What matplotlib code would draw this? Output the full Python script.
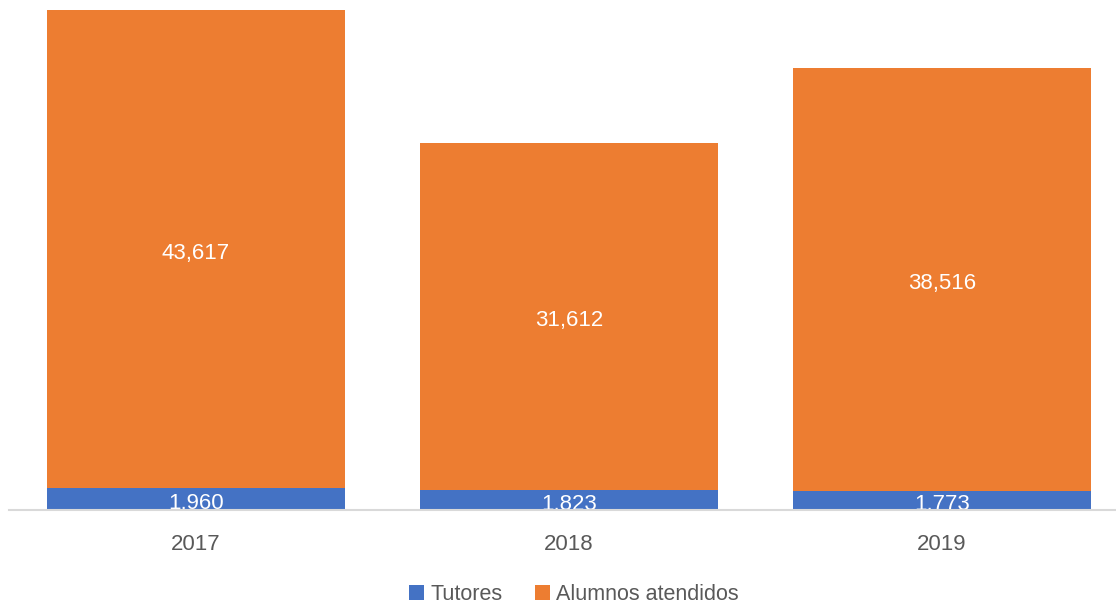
import matplotlib.pyplot as plt

# chart data
years = ['2017', '2018', '2019']
tutores = [1960, 1823, 1773]
alumnos = [43617, 31612, 38516]

blue = '#4472C4'
orange = '#ED7D31'
grey_text = '#595959'

plt.rcParams['font.family'] = ['Liberation Sans', 'DejaVu Sans']

fig = plt.figure(figsize=(11.16, 6.05), dpi=100)
ax = fig.add_axes([9 / 1116, 95 / 605, 1107 / 1116, 500 / 605])

x = range(len(years))
b1 = ax.bar(x, tutores, width=0.8, color=blue, label='Tutores')
b2 = ax.bar(x, alumnos, width=0.8, bottom=tutores, color=orange, label='Alumnos atendidos')

ax.bar_label(b1, labels=[f'{v:,}' for v in tutores], label_type='center',
             color='white', fontsize=16, padding=-3)
ax.bar_label(b2, labels=[f'{v:,}' for v in alumnos], label_type='center',
             color='white', fontsize=16, padding=-3)

ax.set_xlim(-0.501, 2.467)
ax.set_ylim(0, 45577)
ax.set_xticks(list(x))
ax.set_xticklabels(years, fontsize=16, color=grey_text)
ax.tick_params(axis='x', length=0, pad=17)
ax.set_yticks([])
for s in ['top', 'left', 'right']:
    ax.spines[s].set_visible(False)
ax.spines['bottom'].set_color('#d9d9d9')
ax.spines['bottom'].set_linewidth(1.5)
ax.spines['bottom'].set_zorder(5)

fig.legend(loc='center', bbox_to_anchor=(0.514, 0.018), ncol=2, frameon=False,
           fontsize=15.5, labelcolor=grey_text, handlelength=0.7, handleheight=0.7,
           handletextpad=0.3, columnspacing=1.5)

fig.savefig('out.png', dpi=100)
